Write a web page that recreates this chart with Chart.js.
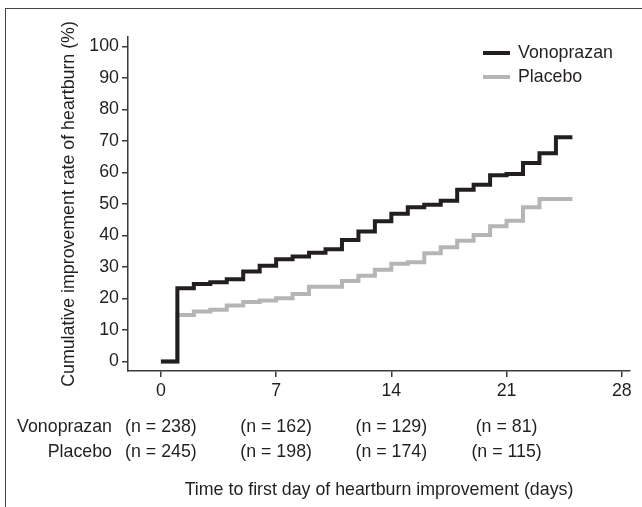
<!DOCTYPE html>
<html><head><meta charset="utf-8">
<script src="https://cdn.jsdelivr.net/npm/chart.js@4/dist/chart.umd.min.js"></script>
<style>html,body{margin:0;padding:0;background:#fff;}canvas{display:block}</style>
</head><body>
<canvas id="c" width="642" height="507"></canvas>
<script>
const days = [0,1,2,3,4,5,6,7,8,9,10,11,12,13,14,15,16,17,18,19,20,21,22,23,24,25];
const vonoprazan = [0,23.3,24.6,25.2,26.1,28.6,30.4,32.5,33.3,34.5,35.6,38.6,41.3,44.5,46.9,49.0,49.8,51.0,54.5,56.1,59.1,59.5,63.0,66.1,71.2,71.2];
const placebo = [0,14.8,15.9,16.4,17.8,18.9,19.4,20.1,21.4,23.7,23.7,25.6,27.2,29.1,31.0,31.5,34.4,36.3,38.3,40.2,42.9,44.7,49.0,51.6,51.6,51.6];
const seriesNames = ['Vonoprazan','Placebo'];
const xTicks = [0,7,14,21,28];
const yTicks = [0,10,20,30,40,50,60,70,80,90,100];
const atRiskDays = [0,7,14,21];
const vonoAtRisk = [238,162,129,81];
const placeboAtRisk = [245,198,174,115];
const yTitle = 'Cumulative improvement rate of heartburn (%)';
const xTitle = 'Time to first day of heartburn improvement (days)';

const FONT = '"Liberation Sans", Arial, Helvetica, sans-serif';
const FS = 17.8;
const TXT = '#231f20';
const AX = '#3a3a3a';
const colors = ['#231f20','#b3b5b7'];

const toPts = arr => days.map((d,i)=>({x:d,y:arr[i]}));

const extras = {
  id:'extras',
  beforeDraw(chart){
    const ctx = chart.ctx;
    ctx.save();
    ctx.fillStyle='#fff';
    ctx.fillRect(0,0,chart.width,chart.height);
    ctx.strokeStyle='#444';
    ctx.lineWidth=1;
    ctx.strokeRect(5.5,8.5,chart.width+10,chart.height+10);
    ctx.restore();
  },
  afterDraw(chart){
    const ctx = chart.ctx, ca = chart.chartArea, xs = chart.scales.x;
    ctx.save();
    // legend
    ctx.font = FS+'px '+FONT;
    ctx.textBaseline='middle';
    ctx.textAlign='left';
    chart.data.datasets.forEach((ds,i)=>{
      const y = ca.top + 16 + i*24;
      const x0 = ca.right - 147;
      ctx.strokeStyle = ds.borderColor;
      ctx.lineWidth = 4;
      ctx.beginPath(); ctx.moveTo(x0,y); ctx.lineTo(x0+27,y); ctx.stroke();
      ctx.fillStyle = TXT;
      ctx.fillText(ds.label, x0+35, y);
    });
    // at-risk table
    const rows = [vonoAtRisk, placeboAtRisk];
    rows.forEach((r,ri)=>{
      const y = ca.bottom + 56 + ri*25;
      ctx.textAlign='right';
      ctx.fillText(seriesNames[ri], ca.left - 16, y);
      ctx.textAlign='center';
      r.forEach((n,k)=>{
        ctx.fillText('(n = '+n+')', xs.getPixelForValue(atRiskDays[k]), y);
      });
    });
    ctx.restore();
  }
};

new Chart(document.getElementById('c'), {
  type:'line',
  data:{datasets:[
    {label:seriesNames[0], data:toPts(vonoprazan), borderColor:colors[0], backgroundColor:colors[0], borderWidth:4, stepped:'before', pointRadius:0, fill:false, borderCapStyle:'butt', borderJoinStyle:'miter'},
    {label:seriesNames[1], data:toPts(placebo), borderColor:colors[1], backgroundColor:colors[1], borderWidth:4, stepped:'before', pointRadius:0, fill:false, borderCapStyle:'butt', borderJoinStyle:'miter'}
  ]},
  options:{
    responsive:false, animation:false,
    layout:{padding:{top:37,right:12,left:0,bottom:0}},
    plugins:{legend:{display:false}, tooltip:{enabled:false}},
    scales:{
      x:{type:'linear', min:-2, max:28.5,
        afterBuildTicks:s=>{s.ticks = xTicks.map(v=>({value:v}));},
        afterFit:s=>{s.height=136;},
        grid:{drawOnChartArea:false, tickLength:6, color:AX, lineWidth:1.5},
        border:{color:AX, width:1.5},
        ticks:{font:{family:FONT,size:FS}, color:TXT, padding:3, maxRotation:0, autoSkip:false},
        title:{display:true, text:xTitle, font:{family:FONT,size:FS}, color:TXT, padding:{top:0,bottom:6}}
      },
      y:{type:'linear', min:-3, max:103,
        afterBuildTicks:s=>{s.ticks = yTicks.map(v=>({value:v}));},
        afterFit:s=>{s.width=128;},
        grid:{drawOnChartArea:false, tickLength:6, color:AX, lineWidth:1.5},
        border:{color:AX, width:1.5},
        ticks:{font:{family:FONT,size:FS}, color:TXT, padding:3, autoSkip:false},
        title:{display:true, text:yTitle, font:{family:FONT,size:FS}, color:TXT, padding:{top:58,bottom:0}}
      }
    }
  },
  plugins:[extras]
});
</script>
</body></html>
